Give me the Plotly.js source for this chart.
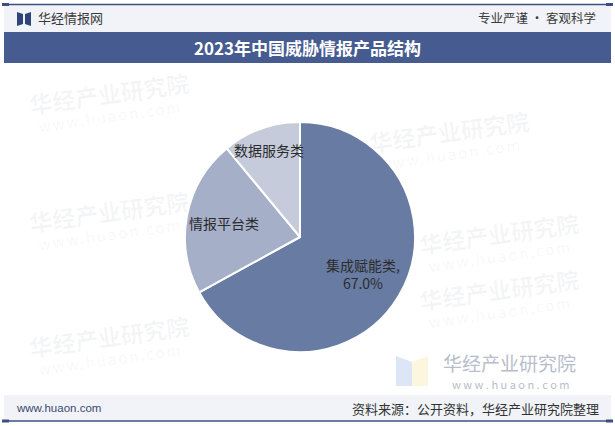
<!DOCTYPE html>
<html>
<head>
<meta charset="utf-8">
<script src="https://cdn.plot.ly/plotly-3.0.1.min.js"></script>
<style>
html,body{margin:0;padding:0;background:#fff;}
#wrap{position:relative;width:615px;height:426px;overflow:hidden;}
#wm{position:absolute;left:0;top:0;width:615px;height:426px;}
#chart{position:absolute;left:0;top:0;width:615px;height:426px;}
.wmt{position:absolute;font-family:'Noto Sans CJK SC',sans-serif;white-space:nowrap;transform-origin:center;line-height:1;}
</style>
</head>
<body>
<div id="wrap"><div id="wm"></div><div id="chart"></div></div>
<script>
// ---- data ----
const categories = ["集成赋能类", "情报平台类", "数据服务类"];
const shares = [67.0, 22.0, 11.0];
const showPercent = [true, false, false];
const chartTitle = "2023年中国威胁情报产品结构";
const brandName = "华经情报网";
const slogan = "专业严谨 • 客观科学";
const siteUrl = "www.huaon.com";
const sourceText = "资料来源：公开资料，华经产业研究院整理";
const watermarkName = "华经产业研究院";

// ---- styles ----
const W = 615, H = 426;
const sliceColors = ["#687ba2", "#a5afc8", "#c6cbdb"];
const labelRadius = [0.64, 0.67, 0.80];
const cx = 300, cy = 237, R = 115;
const font = "'Noto Sans CJK SC', 'Noto Sans', sans-serif";

const px = x => x / W;
const py = y => 1 - y / H;

// ---- faint background watermarks (HTML layer beneath the chart) ----
const wmSpots = [
  { x: 30, y: 82 }, { x: 370, y: 120 }, { x: 30, y: 200 },
  { x: 420, y: 222 }, { x: 30, y: 325 }, { x: 420, y: 278 }
];
const wmLayer = document.getElementById("wm");
wmSpots.forEach(s => {
  const d = document.createElement("div");
  d.className = "wmt";
  d.style.left = s.x + "px";
  d.style.top = s.y + "px";
  d.style.transform = "rotate(-8deg)";
  d.style.color = "rgba(70,85,120,0.06)";
  d.innerHTML = '<div style="font-size:23px;font-weight:bold;">' + watermarkName +
    '</div><div style="font-size:15px;letter-spacing:2px;margin-top:3px;padding-left:6px;">' + siteUrl + '</div>';
  wmLayer.appendChild(d);
});

const pie = {
  type: "pie",
  labels: categories,
  values: shares,
  sort: false,
  direction: "clockwise",
  rotation: 0,
  textinfo: "none",
  hoverinfo: "label+percent",
  marker: { colors: sliceColors, line: { color: "#ffffff", width: 2 } },
  domain: { x: [px(cx - R), px(cx + R)], y: [py(cy + R), py(cy - R)] },
  showlegend: false
};

// label annotations placed at slice mid-angles computed from the data
const total = shares.reduce((a, b) => a + b, 0);
let acc = 0;
const annotations = [];
categories.forEach((c, i) => {
  const mid = (acc + shares[i] / 2) / total * 2 * Math.PI;
  acc += shares[i];
  const r = R * labelRadius[i];
  const x = cx + r * Math.sin(mid);
  const y = cy - r * Math.cos(mid);
  annotations.push({
    xref: "paper", yref: "paper", x: px(x), y: py(y), xanchor: "center", yanchor: "middle",
    text: showPercent[i] ? c + ",<br>" + shares[i].toFixed(1) + "%" : c,
    showarrow: false, align: "center",
    font: { family: font, size: 14, color: "#2b2b2b" }
  });
});

// header / footer texts
annotations.push(
  { xref: "paper", yref: "paper", x: px(36), y: py(18), xanchor: "left", yanchor: "middle",
    text: brandName, showarrow: false, font: { family: font, size: 13, color: "#3a3a3a" } },
  { xref: "paper", yref: "paper", x: px(598), y: py(18), xanchor: "right", yanchor: "middle",
    text: slogan, showarrow: false, font: { family: font, size: 12.5, color: "#3a3a3a" } },
  { xref: "paper", yref: "paper", x: px(307), y: py(47.5), xanchor: "center", yanchor: "middle",
    text: "<b>" + chartTitle + "</b>", showarrow: false, font: { family: font, size: 17, color: "#ffffff" } },
  { xref: "paper", yref: "paper", x: px(14), y: py(408), xanchor: "left", yanchor: "middle",
    text: siteUrl, showarrow: false, font: { family: "Arial, 'Liberation Sans', sans-serif", size: 11.5, color: "#3b4a70" } },
  { xref: "paper", yref: "paper", x: px(601), y: py(408), xanchor: "right", yanchor: "middle",
    text: sourceText, showarrow: false, font: { family: font, size: 13, color: "#333333" } },
  // visible watermark bottom-right
  { xref: "paper", yref: "paper", x: px(509), y: py(362), xanchor: "center", yanchor: "middle", showarrow: false,
    text: watermarkName, font: { family: font, size: 19, color: "#b7bdca" } },
  { xref: "paper", yref: "paper", x: px(511), y: py(384), xanchor: "center", yanchor: "middle", showarrow: false,
    text: "w w w . h u a o n . c o m", font: { family: font, size: 11, color: "#b7bdca" } }
);

const shapes = [
  { type: "rect", xref: "paper", yref: "paper", x0: px(4), x1: px(611), y0: py(32), y1: py(5), fillcolor: "#f1f3f8", line: { width: 0 }, layer: "below" },
  { type: "line", xref: "paper", yref: "paper", x0: px(3), x1: px(612), y0: py(4.5), y1: py(4.5), line: { color: "#3d4f80", width: 1.5 } },
  { type: "rect", xref: "paper", yref: "paper", x0: px(2), x1: px(9), y0: py(6), y1: py(3), fillcolor: "#3d4f80", line: { width: 0 } },
  { type: "rect", xref: "paper", yref: "paper", x0: px(606), x1: px(613), y0: py(6), y1: py(3), fillcolor: "#3d4f80", line: { width: 0 } },
  { type: "path", xref: "paper", yref: "paper",
    path: `M ${px(17)} ${py(12)} L ${px(23)} ${py(14)} L ${px(23)} ${py(24)} L ${px(17)} ${py(26)} Z`,
    fillcolor: "#2f4478", line: { width: 0 } },
  { type: "path", xref: "paper", yref: "paper",
    path: `M ${px(31)} ${py(12)} L ${px(25)} ${py(14)} L ${px(25)} ${py(24)} L ${px(31)} ${py(26)} Z`,
    fillcolor: "#2f4478", line: { width: 0 } },
  { type: "rect", xref: "paper", yref: "paper", x0: px(4), x1: px(611), y0: py(63), y1: py(32), fillcolor: "#465b8f", line: { width: 0 }, layer: "below" },
  { type: "path", xref: "paper", yref: "paper",
    path: `M ${px(396)} ${py(356)} L ${px(412)} ${py(362)} L ${px(412)} ${py(386)} L ${px(396)} ${py(386)} Z`,
    fillcolor: "#dde6f6", line: { width: 0 }, layer: "below" },
  { type: "path", xref: "paper", yref: "paper",
    path: `M ${px(428)} ${py(356)} L ${px(412)} ${py(362)} L ${px(412)} ${py(386)} L ${px(428)} ${py(386)} Z`,
    fillcolor: "#fdf6de", line: { width: 0 }, layer: "below" },
  { type: "rect", xref: "paper", yref: "paper", x0: px(4), x1: px(611), y0: py(420), y1: py(395), fillcolor: "#f1f3f8", line: { width: 0 }, layer: "below" },
  { type: "line", xref: "paper", yref: "paper", x0: px(3), x1: px(612), y0: py(421), y1: py(421), line: { color: "#3d4f80", width: 1.5 } },
  { type: "rect", xref: "paper", yref: "paper", x0: px(2), x1: px(9), y0: py(422.5), y1: py(419.5), fillcolor: "#3d4f80", line: { width: 0 } },
  { type: "rect", xref: "paper", yref: "paper", x0: px(606), x1: px(613), y0: py(422.5), y1: py(419.5), fillcolor: "#3d4f80", line: { width: 0 } }
];

const layout = {
  width: W, height: H,
  margin: { l: 0, r: 0, t: 0, b: 0 },
  paper_bgcolor: "rgba(0,0,0,0)",
  plot_bgcolor: "rgba(0,0,0,0)",
  showlegend: false,
  shapes: shapes,
  annotations: annotations,
  font: { family: font }
};

Plotly.newPlot("chart", [pie], layout, { displayModeBar: false, staticPlot: true });
</script>
</body>
</html>
